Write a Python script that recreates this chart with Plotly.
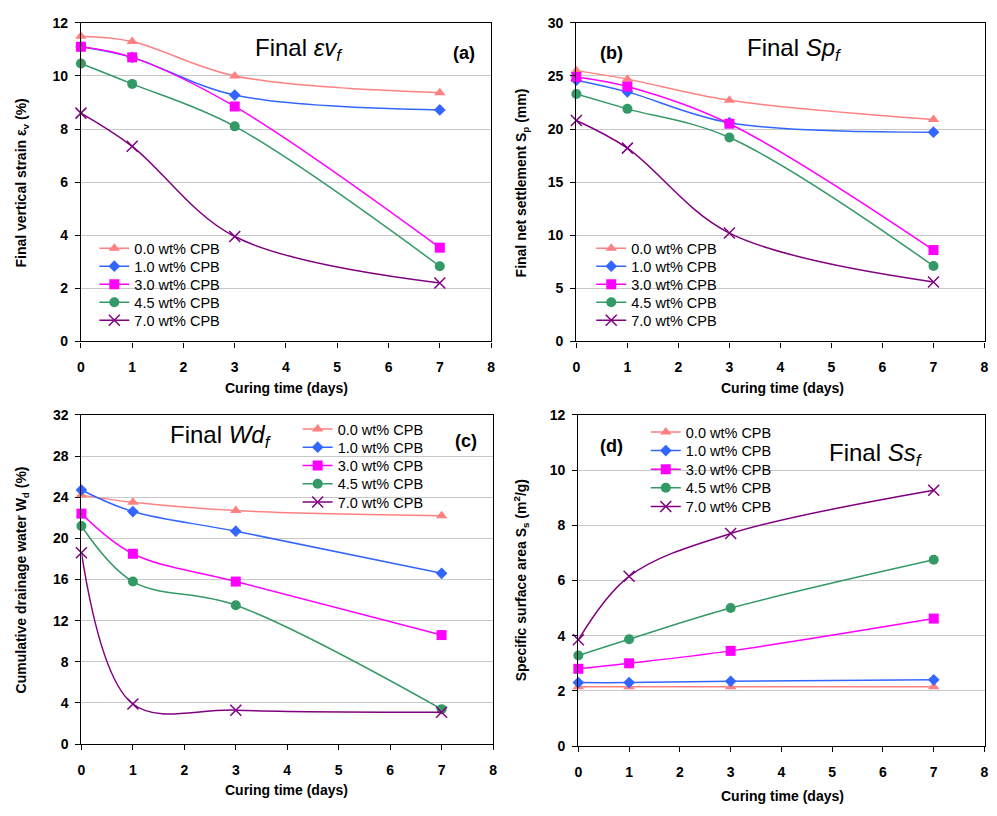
import plotly.graph_objects as go

days = [0, 1, 3, 7]
series_names = ["0.0 wt% CPB", "1.0 wt% CPB", "3.0 wt% CPB", "4.5 wt% CPB", "7.0 wt% CPB"]
series_colors = ["#FF8080", "#3366FF", "#FF00FF", "#339966", "#800080"]
series_symbols = ["triangle-up", "diamond", "square", "circle", "x-thin-open"]

# (a) Final vertical strain (%)
ev_00 = [11.5, 11.3, 10.0, 9.37]
ev_10 = [11.1, 10.7, 9.28, 8.72]
ev_30 = [11.1, 10.7, 8.85, 3.53]
ev_45 = [10.47, 9.7, 8.1, 2.83]
ev_70 = [8.6, 7.35, 3.95, 2.2]

# (b) Final net settlement (mm)
sp_00 = [25.5, 24.7, 22.7, 20.9]
sp_10 = [24.6, 23.5, 20.6, 19.7]
sp_30 = [24.9, 24.0, 20.5, 8.6]
sp_45 = [23.3, 21.9, 19.2, 7.1]
sp_70 = [20.8, 18.2, 10.2, 5.6]

# (c) Cumulative drainage water (%)
wd_00 = [24.2, 23.5, 22.7, 22.2]
wd_10 = [24.7, 22.6, 20.7, 16.6]
wd_30 = [22.4, 18.5, 15.8, 10.6]
wd_45 = [21.2, 15.8, 13.5, 3.4]
wd_70 = [18.6, 3.9, 3.3, 3.1]

# (d) Specific surface area (m2/g)
ss_00 = [2.15, 2.15, 2.15, 2.15]
ss_10 = [2.3, 2.3, 2.35, 2.4]
ss_30 = [2.8, 3.0, 3.45, 4.62]
ss_45 = [3.28, 3.87, 5.0, 6.75]
ss_70 = [3.85, 6.15, 7.7, 9.27]

y_ticks_a = [0, 2, 4, 6, 8, 10, 12]
y_ticks_b = [0, 5, 10, 15, 20, 25, 30]
y_ticks_c = [0, 4, 8, 12, 16, 20, 24, 28, 32]
y_ticks_d = [0, 2, 4, 6, 8, 10, 12]
x_ticks = [0, 1, 2, 3, 4, 5, 6, 7, 8]

# page body has an 8px margin: figure is 16px smaller and coordinates shifted
OFF = 8
W, H = 997 - 2 * OFF, 816 - 2 * OFF
def px(x):
    return min(1.0, max(0.0, (x - OFF) / W))
def py(y):
    return min(1.0, max(0.0, 1 - (y - OFF) / H))

FONT = "Liberation Sans, Arial, sans-serif"

# legend placement per panel: (left x, first row y, row step) in pixels
panels = [
    dict(data=[ev_00, ev_10, ev_30, ev_45, ev_70], ticks=y_ticks_a,
         dom_x=[px(77.5), px(491)], dom_y=[py(340), py(15)], leg=(91, 245, 18.4)),
    dict(data=[sp_00, sp_10, sp_30, sp_45, sp_70], ticks=y_ticks_b,
         dom_x=[px(577), px(988.5)], dom_y=[py(340), py(15)], leg=(592, 245, 18.4)),
    dict(data=[wd_00, wd_10, wd_30, wd_45, wd_70], ticks=y_ticks_c,
         dom_x=[px(78), px(493)], dom_y=[py(751), py(415)], leg=(296, 429.5, 18.6)),
    dict(data=[ss_00, ss_10, ss_30, ss_45, ss_70], ticks=y_ticks_d,
         dom_x=[px(579), px(988.5)], dom_y=[py(753), py(415)], leg=(647, 432.5, 19)),
]

fig = go.Figure()
layout = dict(width=W, height=H, margin=dict(l=0, r=0, t=0, b=0),
              paper_bgcolor="white", plot_bgcolor="white", showlegend=True,
              font=dict(family=FONT, color="black"))

tickfont = dict(family=FONT, size=14, color="black", weight="bold")

leg_idx = 0
for i, p in enumerate(panels):
    n = "" if i == 0 else str(i + 1)
    lx, ly0, step = p["leg"]
    for k in range(5):
        leg_idx += 1
        lname = "legend" if leg_idx == 1 else "legend%d" % leg_idx
        sym = series_symbols[k]
        mk = dict(symbol=sym, color=series_colors[k], size=10 if sym != "diamond" else 9)
        if sym == "x-thin-open":
            mk["line"] = dict(color=series_colors[k], width=1.5)
            mk["size"] = 11
        fig.add_trace(go.Scatter(
            x=days, y=p["data"][k], name=series_names[k],
            mode="lines+markers", showlegend=True,
            line=dict(color=series_colors[k], width=1.5, shape="spline", smoothing=1),
            marker=mk, cliponaxis=False,
            xaxis="x" + n, yaxis="y" + n, legend=lname,
        ))
        layout[lname] = dict(x=px(lx), y=py(ly0 + k * step), xanchor="left", yanchor="middle",
                             bgcolor="rgba(0,0,0,0)", borderwidth=0, visible=True,
                             font=dict(family=FONT, size=14.5, color="black"))
    t = p["ticks"]
    layout["xaxis" + n] = dict(domain=p["dom_x"], range=[0, 8], tickvals=x_ticks,
                               anchor="y" + n, showgrid=False, showline=True, mirror=True,
                               linecolor="black", linewidth=1.3, ticks="outside", ticklen=5,
                               tickcolor="black", tickfont=tickfont, zeroline=False,
                               ticklabelstandoff=8)
    layout["yaxis" + n] = dict(domain=p["dom_y"], range=[t[0], t[-1]], tickvals=t,
                               anchor="x" + n, showgrid=True, gridcolor="#C8C8C8", gridwidth=1,
                               showline=True, mirror=True, linecolor="black", linewidth=1.3,
                               ticks="outside", ticklen=5, tickcolor="black", tickfont=tickfont,
                               zeroline=False, ticklabelstandoff=4)

fig.update_layout(**layout)

ann = []
bold = dict(family=FONT, size=14, color="black")
# x-axis titles
for cx, cy in [(285, 388), (785, 388), (285, 798), (785, 804)]:
    ann.append(dict(x=px(cx), y=py(cy), xref="paper", yref="paper", showarrow=False,
                    text="<b>Curing time (days)</b>", font=bold, xanchor="center", yanchor="middle"))
# y-axis titles
ytitles = [
    ("<b>Final vertical strain ε<sub>v</sub> (%)</b>", 18, 178),
    ("<b>Final net settlement S<sub>p</sub> (mm)</b>", 522, 178),
    ("<b>Cumulative drainage water W<sub>d</sub> (%)</b>", 18, 583),
    ("<b>Specific surface area S<sub>s</sub> (m<sup>2</sup>/g)</b>", 522, 584),
]
for txt, cx, cy in ytitles:
    ann.append(dict(x=px(cx), y=py(cy), xref="paper", yref="paper", showarrow=False,
                    text=txt, font=bold, textangle=-90, xanchor="center", yanchor="middle"))
# panel labels
big = dict(family=FONT, size=24, color="black")
lab = dict(family=FONT, size=18, color="black")
for txt, cx, cy in [("Final <i>εv</i><sub><i>f</i></sub>", 297, 42),
                    ("Final <i>Sp</i><sub><i>f</i></sub>", 797, 42),
                    ("Final <i>Wd</i><sub><i>f</i></sub>", 219, 437),
                    ("Final <i>Ss</i><sub><i>f</i></sub>", 879, 455)]:
    ann.append(dict(x=px(cx), y=py(cy), xref="paper", yref="paper", showarrow=False,
                    text=txt, font=big, xanchor="center", yanchor="middle"))
for txt, cx, cy in [("<b>(a)</b>", 464, 46), ("<b>(b)</b>", 612, 46),
                    ("<b>(c)</b>", 466, 442), ("<b>(d)</b>", 612, 447)]:
    ann.append(dict(x=px(cx), y=py(cy), xref="paper", yref="paper", showarrow=False,
                    text=txt, font=lab, xanchor="center", yanchor="middle"))
fig.update_layout(annotations=ann)

fig.write_html("out.html")
